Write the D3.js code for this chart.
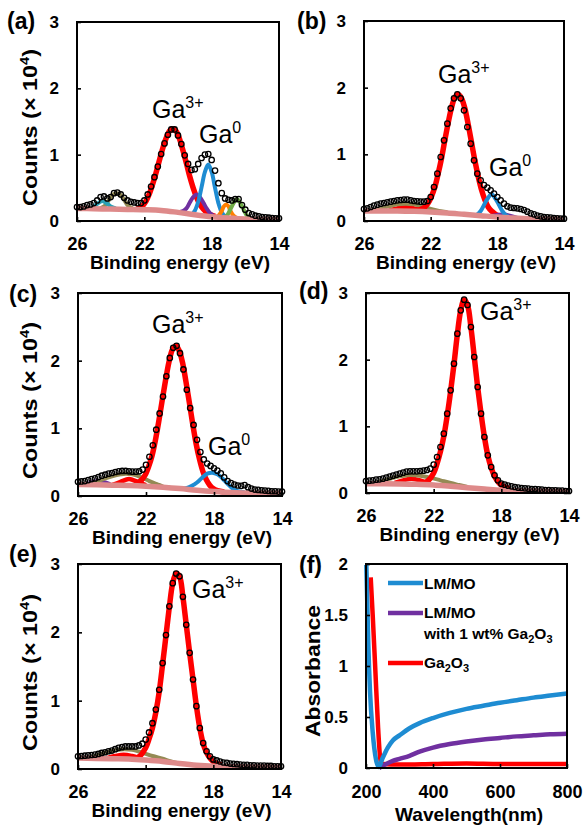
<!DOCTYPE html>
<html>
<head>
<meta charset="utf-8">
<script src="https://cdn.jsdelivr.net/npm/d3@7"></script>
<style>
  body { margin: 0; background: #fff; }
  svg { display: block; font-family: "Liberation Sans", Arial, sans-serif; }
</style>
</head>
<body>
<svg width="587" height="827"></svg>
<script>
const svg = d3.select('svg');

// binding energy grid of the measured points (eV), 26 -> 14
const energy = d3.range(61).map(i => +(26 - i * 0.2).toFixed(1));

// measured counts (x 10^4), one value per grid point
const countsA = [0.21,0.21,0.22,0.24,0.25,0.27, 0.31,0.36,0.37,0.34,0.36, 0.42,0.43,0.40,0.35,0.31,
  0.29,0.28,0.27,0.27,0.31, 0.40,0.52,0.66,0.82,1.01, 1.17,1.30,1.38,1.38,1.29, 1.16,0.99,0.86,0.77,0.78,
  0.86,0.95,1.00,1.01,0.92, 0.76,0.57,0.42,0.34,0.32, 0.31,0.33,0.33,0.24,0.17, 0.12,0.10,0.08,0.07,0.06,
  0.055,0.05,0.045,0.04,0.04];
const countsB = [0.18,0.19,0.21,0.23,0.245,0.26, 0.27,0.28,0.29,0.30,0.31, 0.315,0.32,0.32,0.31,0.30,
  0.295,0.29,0.29,0.30,0.36, 0.51,0.71,0.96,1.21,1.46, 1.69,1.84,1.90,1.84,1.66, 1.41,1.16,0.91,0.71,0.61,
  0.54,0.50,0.46,0.41,0.36, 0.31,0.26,0.22,0.20,0.195, 0.19,0.18,0.165,0.14,0.115, 0.10,0.08,0.07,0.06,0.055,
  0.05,0.045,0.04,0.035,0.035];
const countsC = [0.21,0.215,0.22,0.235,0.25,0.26, 0.28,0.30,0.315,0.33,0.34, 0.355,0.365,0.37,0.37,0.365,
  0.36,0.36,0.365,0.39,0.46, 0.58,0.75,0.98,1.22,1.47, 1.77,2.04,2.19,2.22,2.11, 1.87,1.57,1.30,1.05,0.83,
  0.65,0.54,0.48,0.445,0.41, 0.375,0.335,0.275,0.22,0.19, 0.17,0.155,0.15,0.16,0.13, 0.11,0.095,0.09,0.085,0.08,
  0.075,0.07,0.07,0.065,0.065];
const countsD = [0.18,0.185,0.19,0.20,0.205,0.215, 0.23,0.245,0.26,0.275,0.29, 0.305,0.32,0.325,0.325,0.325,
  0.33,0.335,0.345,0.365,0.425, 0.54,0.69,0.89,1.19,1.54, 1.94,2.39,2.74,2.90,2.82, 2.49,2.04,1.59,1.19,0.84,
  0.565,0.39,0.265,0.19,0.14, 0.125,0.11,0.10,0.09,0.08, 0.075,0.07,0.065,0.06,0.06, 0.055,0.05,0.045,0.045,0.04,
  0.04,0.035,0.035,0.03,0.03];
const countsE = [0.185,0.19,0.195,0.20,0.205,0.21, 0.22,0.235,0.245,0.26,0.27, 0.29,0.31,0.32,0.33,0.33,
  0.33,0.33,0.345,0.37,0.43, 0.535,0.67,0.87,1.16,1.55, 1.96,2.38,2.72,2.86,2.82, 2.52,2.11,1.70,1.31,0.92,
  0.60,0.38,0.26,0.185,0.14, 0.125,0.11,0.095,0.09,0.08, 0.075,0.07,0.065,0.06,0.06, 0.055,0.055,0.05,0.05,0.05,
  0.045,0.045,0.04,0.04,0.04];

// fitted components [energy, counts]
const baseA = [[26,0.19],[25,0.185],[24,0.18],[23,0.175],[22,0.17],[21,0.16],[20,0.13],[19,0.095],[18,0.065],[17,0.045],[16,0.03],[15,0.025],[14,0.025]];
const ga3A = [[22.5,0.18],[22.3,0.19],[22.1,0.23],[21.9,0.30],[21.7,0.41],[21.5,0.56],[21.3,0.73],[21.1,0.92],[20.9,1.10],[20.7,1.25],[20.5,1.36],[20.3,1.39],[20.1,1.35],[19.9,1.23],[19.7,1.06],[19.5,0.87],[19.3,0.67],[19.1,0.50],[18.9,0.36],[18.7,0.25],[18.5,0.18],[18.3,0.13],[18.1,0.10],[17.8,0.07]];
const ga0A = [[19.2,0.09],[19.0,0.155],[18.8,0.29],[18.6,0.51],[18.4,0.74],[18.2,0.85],[18.0,0.74],[17.8,0.50],[17.6,0.27],[17.4,0.13],[17.2,0.07]];
const purpleA = [[20.0,0.13],[19.7,0.15],[19.5,0.19],[19.3,0.28],[19.1,0.36],[18.9,0.40],[18.7,0.36],[18.5,0.28],[18.3,0.19],[18.1,0.12],[17.9,0.08]];
const orangeA = [[17.8,0.055],[17.6,0.08],[17.4,0.15],[17.3,0.21],[17.15,0.25],[17.0,0.22],[16.9,0.16],[16.7,0.08],[16.5,0.045]];
const greenA = [[17.3,0.05],[17.1,0.08],[16.9,0.17],[16.7,0.27],[16.5,0.33],[16.3,0.27],[16.1,0.17],[15.9,0.08],[15.7,0.04]];
const tealA = [[25.3,0.19],[25.0,0.22],[24.8,0.26],[24.5,0.30],[24.2,0.26],[24.0,0.22],[23.7,0.19]];
const oliveA = [[24.6,0.19],[24.3,0.24],[24.1,0.32],[23.9,0.39],[23.65,0.42],[23.4,0.39],[23.2,0.32],[23.0,0.24],[22.7,0.19]];

const baseB = [[26,0.15],[24,0.15],[23,0.145],[22,0.135],[21,0.12],[20,0.10],[19,0.08],[18,0.06],[17,0.045],[16,0.035],[14,0.03]];
const ga3B = [[22.75,0.16],[22.55,0.18],[22.35,0.21],[22.15,0.27],[21.95,0.37],[21.75,0.51],[21.55,0.71],[21.35,0.94],[21.15,1.21],[20.95,1.47],[20.75,1.70],[20.55,1.85],[20.35,1.90],[20.15,1.84],[19.95,1.69],[19.75,1.45],[19.55,1.18],[19.35,0.91],[19.15,0.67],[18.95,0.47],[18.75,0.32],[18.55,0.21],[18.35,0.15],[18.15,0.11],[17.95,0.08],[17.6,0.06]];
const ga0B = [[19.4,0.08],[19.2,0.10],[19.0,0.15],[18.8,0.24],[18.6,0.33],[18.35,0.40],[18.1,0.33],[17.9,0.24],[17.7,0.15],[17.5,0.09],[17.3,0.06]];
const satB = [[24.5,0.16],[24,0.19],[23.5,0.21],[23,0.19],[22.5,0.16]];
const oliveB = [[25.6,0.16],[25,0.19],[24.5,0.22],[24,0.25],[23.5,0.26],[23,0.25],[22.5,0.22],[22,0.18],[21.5,0.15],[21,0.13]];
const purpleB = [[19.2,0.08],[18.4,0.08],[18,0.095],[17.6,0.10],[17.2,0.08],[16.8,0.05]];

const baseC = [[26,0.17],[24,0.16],[23,0.155],[22,0.145],[21,0.13],[20,0.11],[19,0.085],[18,0.065],[17,0.05],[16,0.045],[14,0.04]];
const ga3C = [[22.65,0.18],[22.45,0.20],[22.25,0.24],[22.05,0.31],[21.85,0.43],[21.65,0.59],[21.45,0.82],[21.25,1.10],[21.05,1.41],[20.85,1.71],[20.65,1.98],[20.45,2.16],[20.25,2.22],[20.05,2.15],[19.85,1.97],[19.65,1.69],[19.45,1.38],[19.25,1.06],[19.05,0.77],[18.85,0.54],[18.65,0.36],[18.45,0.24],[18.25,0.16],[18.05,0.11],[17.8,0.08],[17.4,0.06]];
const ga0C = [[20.0,0.11],[19.6,0.12],[19.3,0.15],[19.0,0.20],[18.7,0.27],[18.4,0.33],[18.1,0.345],[17.8,0.32],[17.5,0.26],[17.2,0.18],[16.9,0.11],[16.6,0.07],[16.2,0.055]];
const satC = [[24,0.16],[23.5,0.21],[23,0.25],[22.5,0.21],[22,0.16]];
const oliveC = [[25.5,0.17],[25,0.20],[24.5,0.25],[24,0.29],[23.5,0.32],[23.2,0.33],[22.8,0.32],[22.3,0.28],[21.8,0.22],[21.3,0.17],[21,0.14]];
const purpleC = [[25.5,0.18],[25.1,0.21],[24.8,0.23],[24.5,0.21],[24.1,0.18]];

const baseD = [[26,0.14],[24,0.135],[23,0.13],[22,0.12],[21,0.10],[20,0.08],[19,0.06],[18,0.04],[16,0.03],[14,0.025]];
const ga3D = [[22.6,0.14],[22.3,0.19],[22.0,0.30],[21.8,0.44],[21.6,0.62],[21.4,0.85],[21.2,1.16],[21.0,1.52],[20.8,1.93],[20.6,2.38],[20.4,2.74],[20.2,2.90],[20.0,2.82],[19.8,2.49],[19.6,2.04],[19.4,1.59],[19.2,1.19],[19.0,0.84],[18.8,0.565],[18.6,0.38],[18.4,0.25],[18.2,0.17],[18.0,0.12],[17.8,0.09],[17.5,0.07]];
const satD = [[24.3,0.15],[23.8,0.19],[23.3,0.215],[22.8,0.19],[22.4,0.15]];
const oliveD = [[25.5,0.15],[25,0.18],[24.5,0.22],[24,0.25],[23.4,0.27],[22.8,0.26],[22.2,0.23],[21.6,0.19],[21,0.15],[20.5,0.12],[20,0.09]];

const baseE = [[26,0.16],[24,0.15],[23,0.145],[22,0.13],[21,0.11],[20,0.08],[19,0.055],[18,0.04],[16,0.03],[14,0.025]];
const ga3E = [[22.6,0.15],[22.3,0.20],[22.0,0.31],[21.8,0.44],[21.6,0.60],[21.4,0.83],[21.2,1.13],[21.0,1.53],[20.8,1.95],[20.6,2.37],[20.4,2.72],[20.2,2.86],[20.0,2.82],[19.8,2.52],[19.6,2.11],[19.4,1.70],[19.2,1.31],[19.0,0.92],[18.8,0.60],[18.6,0.37],[18.4,0.24],[18.2,0.16],[18.0,0.11],[17.8,0.08],[17.5,0.06]];
const satE = [[24.3,0.16],[23.8,0.19],[23.3,0.21],[22.8,0.19],[22.4,0.16]];
const oliveE = [[25.5,0.16],[25,0.19],[24.5,0.23],[24,0.265],[23.3,0.29],[22.8,0.28],[22.2,0.24],[21.6,0.19],[21,0.15],[20.5,0.11],[20,0.08]];

// UV-vis absorbance [wavelength nm, absorbance]
const absLMMO = [[201,1.99],[204,1.6],[207,1.2],[212,0.75],[220,0.35],[230,0.08],[238,0.01],[250,0.10],[265,0.20],[280,0.27],[300,0.32],[330,0.39],[360,0.44],[400,0.49],[450,0.54],[500,0.58],[550,0.61],[600,0.64],[650,0.665],[700,0.69],[750,0.71],[800,0.73]];
const absLMMOGa = [[239,0.0],[260,0.04],[280,0.07],[300,0.09],[330,0.12],[360,0.16],[400,0.20],[450,0.235],[500,0.26],[550,0.28],[600,0.295],[650,0.31],[700,0.32],[750,0.33],[800,0.335]];
const absGa2O3 = [[214,1.87],[220,1.5],[228,0.95],[236,0.4],[244,0.06],[250,0.04],[300,0.035],[400,0.04],[500,0.045],[600,0.04],[700,0.04],[800,0.04]];

const beTicks = [26, 22, 18, 14];
const countTicks = [0, 1, 2, 3];
const wlTicks = [200, 400, 600, 800];
const absTicks = [0, 0.5, 1, 1.5, 2];
const absTickLabels = ['0', '0.5', '1', '1.5', '2'];

const RED = '#ff0000', BLUE = '#1e8cd2', PURPLE = '#7030a0', ORANGE = '#ff7f00',
      GREEN = '#70ad47', TEAL = '#2aa0b4', OLIVE = '#948a54', PINK = '#de8a8a';

function styleAxis(g, size) {
  g.select('.domain').remove();
  g.selectAll('line').attr('stroke', '#000').attr('stroke-width', 1.6);
  g.selectAll('text').attr('font-size', size).attr('font-weight', 'bold')
    .attr('font-family', '"Liberation Sans", Arial, sans-serif').attr('fill', '#000');
}

function panelLabel(x, y, txt) {
  svg.append('text').attr('x', x).attr('y', y).attr('font-size', 23).attr('font-weight', 'bold').text(txt);
}

function gaLabel(x, y, sup) {
  const t = svg.append('text').attr('x', x).attr('y', y).attr('font-size', 25);
  t.append('tspan').text('Ga');
  t.append('tspan').attr('dy', -10).attr('font-size', 16).text(sup);
}

function xpsPanel(box, counts, comps, yTitle) {
  const x = d3.scaleLinear().domain([26, 14]).range([box.x0, box.x1]);
  const y = d3.scaleLinear().domain([0, 3]).range([box.y1, box.y0]);
  const line = d3.line().x(d => x(d[0])).y(d => y(d[1])).curve(d3.curveCatmullRom);
  const g = svg.append('g');

  comps.forEach(c => {
    g.append('path').attr('d', line(c.data)).attr('fill', 'none')
      .attr('stroke', c.color).attr('stroke-width', c.w).attr('stroke-linejoin', 'round');
  });

  g.selectAll('circle.pt').data(counts).enter().append('circle')
    .attr('class', 'pt')
    .attr('cx', (d, i) => x(energy[i]))
    .attr('cy', d => y(d))
    .attr('r', 2.7)
    .attr('fill', 'none').attr('stroke', '#000').attr('stroke-width', 1.3);

  g.append('rect').attr('x', box.x0).attr('y', box.y0)
    .attr('width', box.x1 - box.x0).attr('height', box.y1 - box.y0)
    .attr('fill', 'none').attr('stroke', '#000').attr('stroke-width', 2);

  svg.append('g').attr('transform', `translate(0,${box.y1})`)
    .call(d3.axisBottom(x).tickValues(beTicks).tickSize(-4).tickPadding(16))
    .call(a => styleAxis(a, 18));
  svg.append('g').attr('transform', `translate(${box.x0},0)`)
    .call(d3.axisLeft(y).tickValues(countTicks).tickFormat(d3.format('d')).tickSize(-4).tickPadding(18))
    .call(a => styleAxis(a, 17));

  svg.append('text').attr('x', (box.x0 + box.x1) / 2 + 2).attr('y', box.y1 + 48)
    .attr('text-anchor', 'middle').attr('font-size', 18).attr('font-weight', 'bold')
    .attr('textLength', 180).attr('lengthAdjust', 'spacingAndGlyphs')
    .text('Binding energy (eV)');

  if (yTitle) {
    const cy = (box.y0 + box.y1) / 2 + 6;
    const t = svg.append('text').attr('transform', `translate(37,${cy}) rotate(-90)`)
      .attr('text-anchor', 'middle').attr('font-size', 21).attr('font-weight', 'bold')
      .attr('textLength', 157).attr('lengthAdjust', 'spacingAndGlyphs');
    t.append('tspan').text('Counts (\u00d7 10');
    t.append('tspan').attr('dy', -8).attr('font-size', 13).text('4');
    t.append('tspan').attr('dy', 8).text(')');
  }
}

// (a)
xpsPanel({x0: 77, y0: 22, x1: 279, y1: 221}, countsA, [
  {data: ga3A, color: RED, w: 5.5},
  {data: oliveA, color: OLIVE, w: 4},
  {data: tealA, color: TEAL, w: 4},
  {data: purpleA, color: PURPLE, w: 4},
  {data: ga0A, color: BLUE, w: 4},
  {data: orangeA, color: ORANGE, w: 4},
  {data: greenA, color: GREEN, w: 4},
  {data: baseA, color: PINK, w: 5.5}
], true);
panelLabel(7, 29, '(a)');
gaLabel(152, 118, '3+');
gaLabel(199, 143, '0');

// (b)
xpsPanel({x0: 364, y0: 21, x1: 564, y1: 221}, countsB, [
  {data: satB, color: RED, w: 4.5},
  {data: oliveB, color: OLIVE, w: 4},
  {data: ga3B, color: RED, w: 5.5},
  {data: purpleB, color: PURPLE, w: 3.5},
  {data: ga0B, color: BLUE, w: 4},
  {data: baseB, color: PINK, w: 5.5}
], false);
panelLabel(297, 29, '(b)');
gaLabel(438, 83, '3+');
gaLabel(489, 176, '0');

// (c)
xpsPanel({x0: 78, y0: 293, x1: 282, y1: 496}, countsC, [
  {data: purpleC, color: PURPLE, w: 3.5},
  {data: satC, color: RED, w: 4.5},
  {data: oliveC, color: OLIVE, w: 4},
  {data: ga3C, color: RED, w: 5.5},
  {data: ga0C, color: BLUE, w: 4},
  {data: baseC, color: PINK, w: 5.5}
], true);
panelLabel(9, 302, '(c)');
gaLabel(152, 333, '3+');
gaLabel(208, 455, '0');

// (d)
xpsPanel({x0: 366, y0: 293, x1: 569, y1: 493}, countsD, [
  {data: satD, color: RED, w: 4.5},
  {data: oliveD, color: OLIVE, w: 4},
  {data: ga3D, color: RED, w: 5.5},
  {data: baseD, color: PINK, w: 5.5}
], false);
panelLabel(299, 299, '(d)');
gaLabel(480, 320, '3+');

// (e)
xpsPanel({x0: 78, y0: 564, x1: 281, y1: 769}, countsE, [
  {data: satE, color: RED, w: 4.5},
  {data: oliveE, color: OLIVE, w: 4},
  {data: ga3E, color: RED, w: 5.5},
  {data: baseE, color: PINK, w: 5.5}
], true);
panelLabel(9, 562, '(e)');
gaLabel(192, 598, '3+');

// (f) UV-vis
(function () {
  const box = {x0: 366, y0: 564, x1: 567, y1: 768};
  const x = d3.scaleLinear().domain([200, 800]).range([box.x0, box.x1]);
  const y = d3.scaleLinear().domain([0, 2]).range([box.y1, box.y0]);
  const line = d3.line().x(d => x(d[0])).y(d => y(d[1])).curve(d3.curveMonotoneX);
  const series = [
    {data: absGa2O3, color: RED},
    {data: absLMMOGa, color: PURPLE},
    {data: absLMMO, color: BLUE}
  ];
  series.forEach(s => {
    svg.append('path').attr('d', line(s.data)).attr('fill', 'none')
      .attr('stroke', s.color).attr('stroke-width', 4.5).attr('stroke-linejoin', 'round');
  });
  svg.append('rect').attr('x', box.x0).attr('y', box.y0)
    .attr('width', box.x1 - box.x0).attr('height', box.y1 - box.y0)
    .attr('fill', 'none').attr('stroke', '#000').attr('stroke-width', 2);

  svg.append('g').attr('transform', `translate(0,${box.y1})`)
    .call(d3.axisBottom(x).tickValues(wlTicks).tickSize(-4).tickPadding(17))
    .call(a => styleAxis(a, 18));
  svg.append('g').attr('transform', `translate(${box.x0},0)`)
    .call(d3.axisLeft(y).tickValues(absTicks).tickFormat((d, i) => absTickLabels[i]).tickSize(-4).tickPadding(18))
    .call(a => styleAxis(a, 17));

  svg.append('text').attr('x', 469).attr('y', 821).attr('text-anchor', 'middle')
    .attr('font-size', 19).attr('font-weight', 'bold')
    .attr('textLength', 148).attr('lengthAdjust', 'spacingAndGlyphs').text('Wavelength(nm)');
  svg.append('text').attr('transform', 'translate(320,671) rotate(-90)')
    .attr('text-anchor', 'middle').attr('font-size', 20).attr('font-weight', 'bold')
    .attr('textLength', 132).attr('lengthAdjust', 'spacingAndGlyphs').text('Absorbance');

  // legend
  const lg = svg.append('g').attr('font-size', 15.5).attr('font-weight', 'bold');
  const items = [
    {color: BLUE, ly: 583},
    {color: PURPLE, ly: 613},
    {color: RED, ly: 663}
  ];
  items.forEach(it => {
    lg.append('line').attr('x1', 388).attr('x2', 423).attr('y1', it.ly).attr('y2', it.ly)
      .attr('stroke', it.color).attr('stroke-width', 4.5);
  });
  lg.append('text').attr('x', 424).attr('y', 589).text('LM/MO');
  lg.append('text').attr('x', 424).attr('y', 618).text('LM/MO');
  const w = lg.append('text').attr('x', 424).attr('y', 639);
  w.append('tspan').text('with 1 wt% Ga');
  w.append('tspan').attr('dy', 4).attr('font-size', 11).text('2');
  w.append('tspan').attr('dy', -4).text('O');
  w.append('tspan').attr('dy', 4).attr('font-size', 11).text('3');
  const r = lg.append('text').attr('x', 424).attr('y', 668);
  r.append('tspan').text('Ga');
  r.append('tspan').attr('dy', 4).attr('font-size', 11).text('2');
  r.append('tspan').attr('dy', -4).text('O');
  r.append('tspan').attr('dy', 4).attr('font-size', 11).text('3');
})();
panelLabel(299, 573, '(f)');
</script>
</body>
</html>
